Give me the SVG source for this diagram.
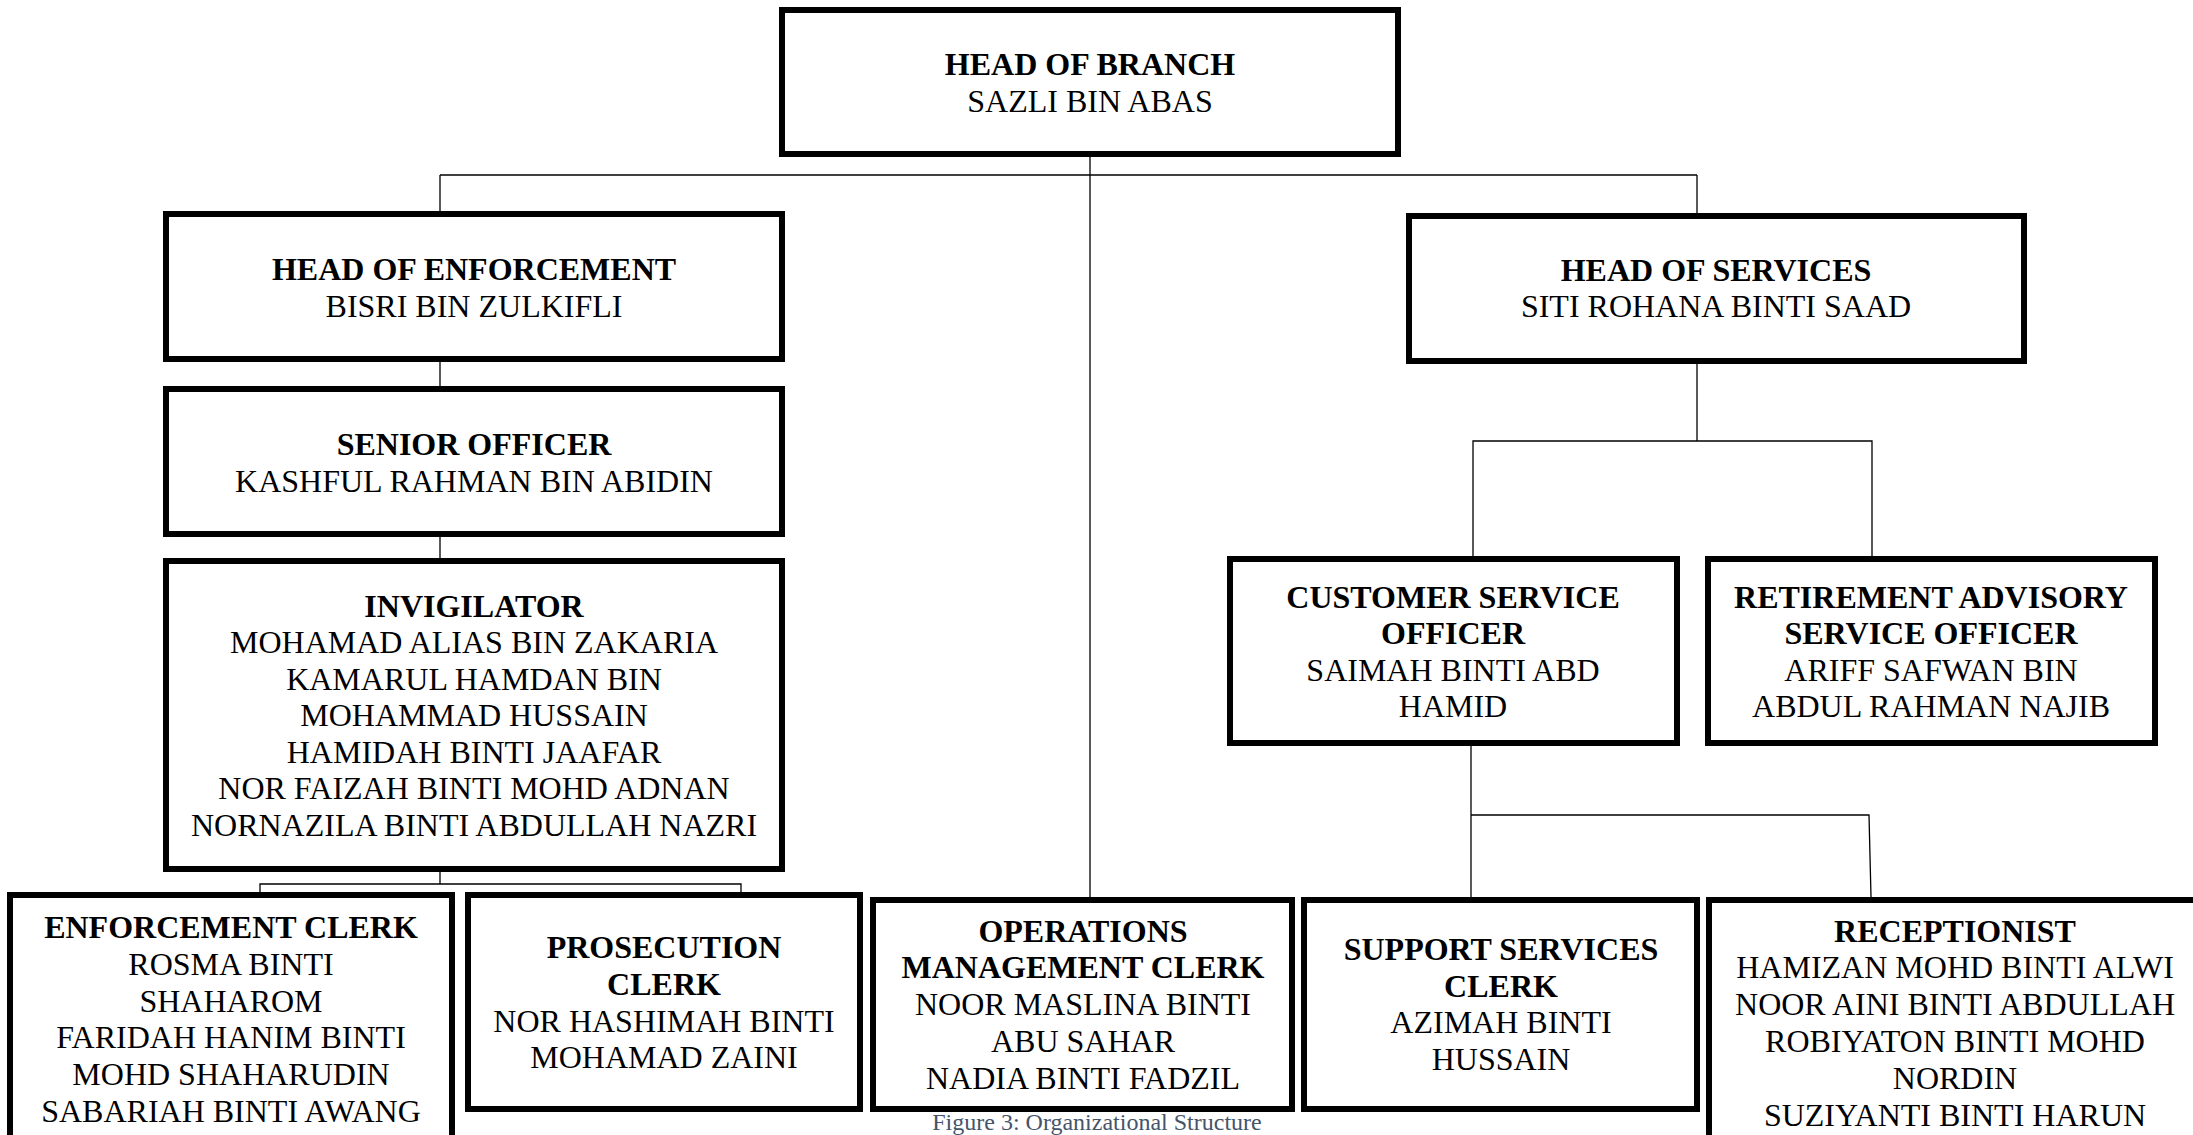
<svg xmlns="http://www.w3.org/2000/svg" width="2193" height="1135" viewBox="0 0 2193 1135">
<style>
.box{fill:#fff;stroke:#000;stroke-width:6}
.ln{stroke:#000;stroke-width:1.3;fill:none}
text{font-family:"Liberation Serif","Times New Roman",serif;font-size:32px;fill:#000;text-anchor:middle}
.b{font-weight:bold}
.cap{fill:#44546A;font-size:24px}
</style>
<rect width="2193" height="1135" fill="#fff"/>
<g id="connectors">
<line class="ln" x1="1090" y1="157" x2="1090" y2="897"/>
<line class="ln" x1="440" y1="175" x2="1697" y2="175"/>
<line class="ln" x1="440" y1="175" x2="440" y2="211"/>
<line class="ln" x1="1697" y1="175" x2="1697" y2="213"/>
<line class="ln" x1="440" y1="362" x2="440" y2="386"/>
<line class="ln" x1="440" y1="537" x2="440" y2="558"/>
<line class="ln" x1="440" y1="872" x2="440" y2="884"/>
<polyline class="ln" points="260,892 260,884 741,884 741,892"/>
<line class="ln" x1="1697" y1="364" x2="1697" y2="441"/>
<polyline class="ln" points="1473,556 1473,441 1872,441 1872,556"/>
<line class="ln" x1="1471" y1="746" x2="1471" y2="897"/>
<polyline class="ln" points="1471,815 1869,815 1871,897"/>
</g>
<g id="head-of-branch">
<rect class="box" x="782" y="10" width="616" height="144"/>
<text class="b" x="1090" y="75">HEAD OF BRANCH</text>
<text x="1090" y="112">SAZLI BIN ABAS</text>
</g>
<g id="head-of-enforcement">
<rect class="box" x="166" y="214" width="616" height="145"/>
<text class="b" x="474" y="280">HEAD OF ENFORCEMENT</text>
<text x="474" y="317">BISRI BIN ZULKIFLI</text>
</g>
<g id="senior-officer">
<rect class="box" x="166" y="389" width="616" height="145"/>
<text class="b" x="474" y="455">SENIOR OFFICER</text>
<text x="474" y="492">KASHFUL RAHMAN BIN ABIDIN</text>
</g>
<g id="invigilator">
<rect class="box" x="166" y="561" width="616" height="308"/>
<text class="b" x="474" y="617">INVIGILATOR</text>
<text x="474" y="653">MOHAMAD ALIAS BIN ZAKARIA</text>
<text x="474" y="690">KAMARUL HAMDAN BIN</text>
<text x="474" y="726">MOHAMMAD HUSSAIN</text>
<text x="474" y="763">HAMIDAH BINTI JAAFAR</text>
<text x="474" y="799">NOR FAIZAH BINTI MOHD ADNAN</text>
<text x="474" y="836">NORNAZILA BINTI ABDULLAH NAZRI</text>
</g>
<g id="head-of-services">
<rect class="box" x="1409" y="216" width="615" height="145"/>
<text class="b" x="1716" y="281">HEAD OF SERVICES</text>
<text x="1716" y="317">SITI ROHANA BINTI SAAD</text>
</g>
<g id="customer-service-officer">
<rect class="box" x="1230" y="559" width="447" height="184"/>
<text class="b" x="1453" y="608">CUSTOMER SERVICE</text>
<text class="b" x="1453" y="644">OFFICER</text>
<text x="1453" y="681">SAIMAH BINTI ABD</text>
<text x="1453" y="717">HAMID</text>
</g>
<g id="retirement-advisory-service-officer">
<rect class="box" x="1708" y="559" width="447" height="184"/>
<text class="b" x="1931" y="608">RETIREMENT ADVISORY</text>
<text class="b" x="1931" y="644">SERVICE OFFICER</text>
<text x="1931" y="681">ARIFF SAFWAN BIN</text>
<text x="1931" y="717">ABDUL RAHMAN NAJIB</text>
</g>
<g id="enforcement-clerk">
<rect class="box" x="10" y="895" width="442" height="260"/>
<text class="b" x="231" y="938">ENFORCEMENT CLERK</text>
<text x="231" y="975">ROSMA BINTI</text>
<text x="231" y="1012">SHAHAROM</text>
<text x="231" y="1048">FARIDAH HANIM BINTI</text>
<text x="231" y="1085">MOHD SHAHARUDIN</text>
<text x="231" y="1122">SABARIAH BINTI AWANG</text>
</g>
<g id="prosecution-clerk">
<rect class="box" x="468" y="895" width="392" height="214"/>
<text class="b" x="664" y="958">PROSECUTION</text>
<text class="b" x="664" y="995">CLERK</text>
<text x="664" y="1032">NOR HASHIMAH BINTI</text>
<text x="664" y="1068">MOHAMAD ZAINI</text>
</g>
<g id="operations-management-clerk">
<rect class="box" x="873" y="900" width="419" height="209"/>
<text class="b" x="1083" y="942">OPERATIONS</text>
<text class="b" x="1083" y="978">MANAGEMENT CLERK</text>
<text x="1083" y="1015">NOOR MASLINA BINTI</text>
<text x="1083" y="1052">ABU SAHAR</text>
<text x="1083" y="1089">NADIA BINTI FADZIL</text>
</g>
<g id="support-services-clerk">
<rect class="box" x="1304" y="900" width="393" height="209"/>
<text class="b" x="1501" y="960">SUPPORT SERVICES</text>
<text class="b" x="1501" y="997">CLERK</text>
<text x="1501" y="1033">AZIMAH BINTI</text>
<text x="1501" y="1070">HUSSAIN</text>
</g>
<g id="receptionist">
<rect class="box" x="1709" y="900" width="500" height="260"/>
<text class="b" x="1955" y="942">RECEPTIONIST</text>
<text x="1955" y="978">HAMIZAN MOHD BINTI ALWI</text>
<text x="1955" y="1015">NOOR AINI BINTI ABDULLAH</text>
<text x="1955" y="1052">ROBIYATON BINTI MOHD</text>
<text x="1955" y="1089">NORDIN</text>
<text x="1955" y="1126">SUZIYANTI BINTI HARUN</text>
</g>
<text class="cap" x="1097" y="1130">Figure 3: Organizational Structure</text>
</svg>
